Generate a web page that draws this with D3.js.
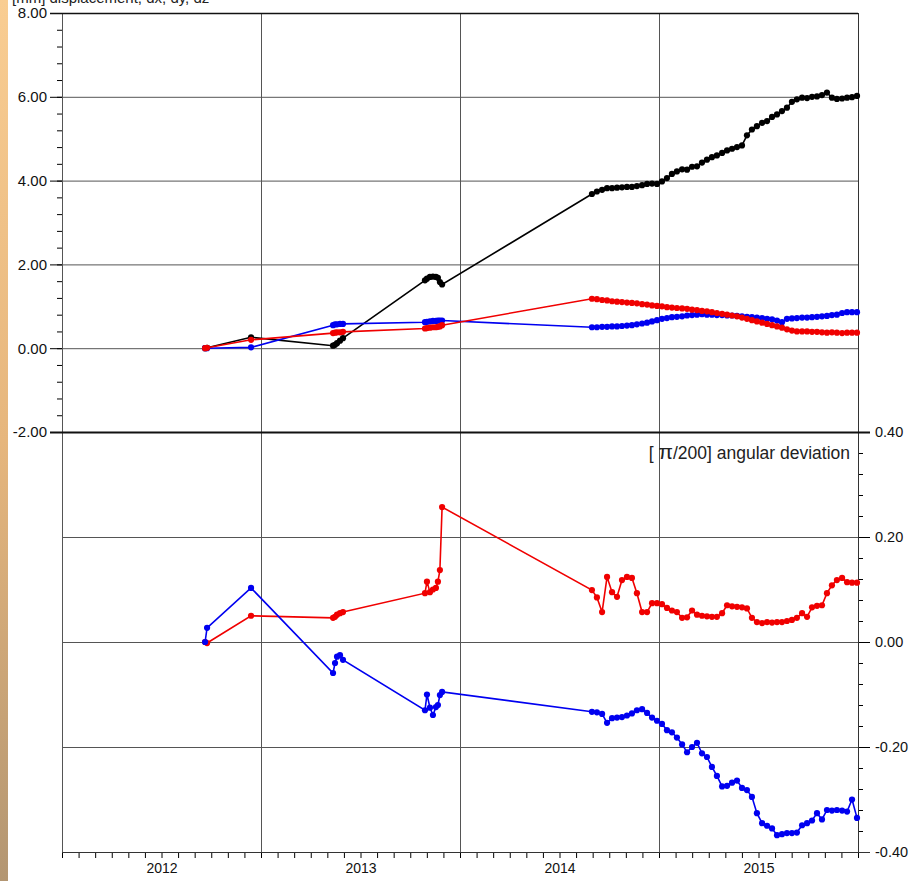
<!DOCTYPE html>
<html>
<head>
<meta charset="utf-8">
<script src="https://cdn.jsdelivr.net/npm/d3@7"></script>
<style>
  body { margin: 0; background: #fff; }
  svg { display: block; font-family: "Liberation Sans", Arial, sans-serif; }
</style>
</head>
<body>
<div id="chart"></div>
<script>
// survey epochs (decimal years), shared by all five series
const epochs = [
  2012.719, 2012.729, 2012.950,
  2013.362, 2013.372, 2013.382, 2013.397, 2013.412,
  2013.824, 2013.834, 2013.849, 2013.864, 2013.879, 2013.889, 2013.899, 2013.910,
  2014.663, 2014.688, 2014.714, 2014.739, 2014.764, 2014.789, 2014.814, 2014.839, 2014.864, 2014.889,
  2014.915, 2014.940, 2014.965, 2014.990, 2015.015, 2015.040, 2015.065, 2015.090, 2015.116, 2015.141,
  2015.166, 2015.191, 2015.216, 2015.241, 2015.266, 2015.291, 2015.317, 2015.342, 2015.367, 2015.392,
  2015.417, 2015.442, 2015.467, 2015.492, 2015.518, 2015.543, 2015.568, 2015.593, 2015.618, 2015.643,
  2015.668, 2015.693, 2015.719, 2015.744, 2015.769, 2015.794, 2015.819, 2015.844, 2015.869, 2015.894,
  2015.920, 2015.945, 2015.970, 2015.995
];

// upper panel, displacement [mm]
const dispBlack = [
  0, 0.01, 0.26,
  0.06, 0.08, 0.12, 0.18, 0.24,
  1.62, 1.66, 1.70, 1.71, 1.70, 1.68, 1.58, 1.52,
  3.68, 3.74, 3.78, 3.82, 3.82, 3.83, 3.84, 3.85, 3.85, 3.87,
  3.89, 3.92, 3.93, 3.92, 3.98, 4.06, 4.16, 4.22, 4.27, 4.26,
  4.33, 4.34, 4.43, 4.50, 4.56, 4.60, 4.66, 4.72, 4.76, 4.80,
  4.84, 5.08, 5.22, 5.30, 5.38, 5.42, 5.52, 5.58, 5.66, 5.74,
  5.88, 5.94, 5.98, 5.97, 6.00, 6.01, 6.04, 6.10, 5.98, 5.95,
  5.96, 5.98, 5.99, 6.02
];
const dispRed = [
  0, 0.01, 0.20,
  0.36, 0.37, 0.38, 0.38, 0.39,
  0.47, 0.48, 0.49, 0.50, 0.50, 0.51, 0.52, 0.55,
  1.18, 1.17, 1.15, 1.14, 1.12, 1.11, 1.10, 1.09, 1.08, 1.07,
  1.05, 1.04, 1.02, 1.01, 1.00, 0.98, 0.97, 0.96, 0.95, 0.94,
  0.92, 0.91, 0.89, 0.88, 0.86, 0.84, 0.82, 0.80, 0.78, 0.76,
  0.73, 0.70, 0.67, 0.64, 0.61, 0.58, 0.55, 0.52, 0.49, 0.45,
  0.42, 0.40, 0.40, 0.40, 0.39, 0.39, 0.38, 0.37, 0.38, 0.37,
  0.36, 0.37, 0.37, 0.37
];
const dispBlue = [
  0, 0, 0.02,
  0.55, 0.57, 0.57, 0.58, 0.58,
  0.62, 0.63, 0.64, 0.65, 0.65, 0.66, 0.66, 0.66,
  0.50, 0.50, 0.51, 0.51, 0.52, 0.52, 0.53, 0.54, 0.55, 0.57,
  0.59, 0.61, 0.64, 0.67, 0.70, 0.72, 0.74, 0.75, 0.76, 0.78,
  0.79, 0.80, 0.81, 0.80, 0.80, 0.79, 0.79, 0.78, 0.78, 0.77,
  0.76, 0.75, 0.74, 0.73, 0.72, 0.70, 0.69, 0.66, 0.62, 0.70,
  0.71, 0.72, 0.73, 0.73, 0.74, 0.75, 0.76, 0.77, 0.79, 0.80,
  0.84, 0.86, 0.86, 0.86
];

// lower panel, angular deviation [pi/200]
const angRed = [
  0, -0.002, 0.050,
  0.046, 0.048, 0.052, 0.055, 0.057,
  0.093, 0.115, 0.095, 0.100, 0.103, 0.115, 0.137, 0.257,
  0.099, 0.085, 0.057, 0.124, 0.095, 0.086, 0.118, 0.124, 0.122, 0.093,
  0.057, 0.057, 0.074, 0.074, 0.072, 0.065, 0.060, 0.057, 0.046, 0.047,
  0.060, 0.052, 0.050, 0.049, 0.048, 0.048, 0.055, 0.070, 0.068, 0.067,
  0.066, 0.064, 0.046, 0.038, 0.036, 0.038, 0.037, 0.038, 0.038, 0.040,
  0.042, 0.046, 0.055, 0.048, 0.066, 0.069, 0.070, 0.093, 0.108, 0.118,
  0.122, 0.114, 0.113, 0.113
];
const angBlue = [
  0, 0.027, 0.103,
  -0.059, -0.040, -0.028, -0.025, -0.034,
  -0.130, -0.100, -0.125, -0.139, -0.124, -0.120, -0.101, -0.095,
  -0.133, -0.134, -0.137, -0.154, -0.145, -0.144, -0.143, -0.140, -0.136, -0.130,
  -0.128, -0.135, -0.144, -0.150, -0.156, -0.168, -0.172, -0.182, -0.195, -0.210,
  -0.200, -0.192, -0.212, -0.219, -0.238, -0.255, -0.275, -0.274, -0.268, -0.264,
  -0.278, -0.282, -0.295, -0.326, -0.345, -0.350, -0.355, -0.368, -0.366, -0.364,
  -0.364, -0.363, -0.349, -0.345, -0.340, -0.326, -0.338, -0.320, -0.321, -0.320,
  -0.321, -0.323, -0.300, -0.335
];

const years = [2012, 2013, 2014, 2015];
const dispTicks = [-2, 0, 2, 4, 6, 8];
const angTicks = [-0.4, -0.2, 0, 0.2, 0.4];

const W = 914, H = 881;
const pLeft = 62, pRight = 858, pTop = 13, pMid = 432, pBottom = 852;

const svg = d3.select("#chart").append("svg")
  .attr("width", W)
  .attr("height", H);

// beige strip on the left edge
const grad = svg.append("defs").append("linearGradient")
  .attr("id", "strip").attr("x1", 0).attr("y1", 0).attr("x2", 0).attr("y2", 1);
grad.append("stop").attr("offset", "0%").attr("stop-color", "#f9cd92");
grad.append("stop").attr("offset", "50%").attr("stop-color", "#e6b67d");
grad.append("stop").attr("offset", "100%").attr("stop-color", "#b39672");
svg.append("rect").attr("x", 0).attr("y", 0).attr("width", 8).attr("height", H)
  .attr("fill", "url(#strip)");

const x = d3.scaleLinear().domain([2012, 2016]).range([pLeft, pRight]);
const yDisp = d3.scaleLinear().domain([-2, 8]).range([pMid, pTop]);
const yAng = d3.scaleLinear().domain([-0.4, 0.4]).range([pBottom, pMid]);

const fmt = d => d.toFixed(2);

// grid
const grid = svg.append("g").attr("stroke", "#555").attr("stroke-width", 1);
grid.selectAll(".gy1")
  .data(dispTicks.filter(d => d > -2 && d < 8))
  .join("line")
  .attr("x1", pLeft).attr("x2", pRight)
  .attr("y1", d => yDisp(d) + 0.5).attr("y2", d => yDisp(d) + 0.5);
grid.selectAll(".gy2")
  .data(angTicks.filter(d => d > -0.4 && d < 0.4))
  .join("line")
  .attr("x1", pLeft).attr("x2", pRight)
  .attr("y1", d => yAng(d) + 0.5).attr("y2", d => yAng(d) + 0.5);
grid.selectAll(".gx")
  .data([2013, 2014, 2015])
  .join("line")
  .attr("x1", d => x(d) + 0.5).attr("x2", d => x(d) + 0.5)
  .attr("y1", pTop).attr("y2", pBottom);

// left axis (upper panel)
svg.append("g")
  .attr("transform", `translate(${pLeft},0)`)
  .call(d3.axisLeft(yDisp).tickValues(d3.range(-2, 8.01, 0.4)).tickSize(5).tickFormat(""))
  .call(g => g.select(".domain").remove());
svg.append("g")
  .attr("transform", `translate(${pLeft},0)`)
  .call(d3.axisLeft(yDisp).tickValues(dispTicks).tickSize(12).tickPadding(3).tickFormat(fmt))
  .call(g => g.select(".domain").remove())
  .call(g => g.selectAll("text").attr("font-size", 15).attr("fill", "#111"));

// right axis (lower panel)
svg.append("g")
  .attr("transform", `translate(${pRight},0)`)
  .call(d3.axisRight(yAng).tickValues(d3.range(-0.4, 0.401, 0.04)).tickSize(5).tickFormat(""))
  .call(g => g.select(".domain").remove());
svg.append("g")
  .attr("transform", `translate(${pRight},0)`)
  .call(d3.axisRight(yAng).tickValues(angTicks).tickSize(12).tickPadding(5).tickFormat(fmt))
  .call(g => g.select(".domain").remove())
  .call(g => g.selectAll("text").attr("font-size", 14.5).attr("fill", "#111"));

// bottom axis: month ticks + year labels
svg.append("g")
  .attr("transform", `translate(0,${pBottom})`)
  .call(d3.axisBottom(x).tickValues(d3.range(2012, 2016.001, 1 / 12)).tickSize(6).tickFormat(""))
  .call(g => g.select(".domain").remove());
svg.append("g")
  .attr("transform", `translate(0,${pBottom})`)
  .call(d3.axisBottom(x).tickValues(years.map(d => d + 0.5)).tickSize(0).tickPadding(11)
    .tickFormat((d, i) => years[i]))
  .call(g => g.select(".domain").remove())
  .call(g => g.selectAll("text").attr("font-size", 14).attr("fill", "#111"));

// frame lines
svg.append("line").attr("x1", pLeft + 0.5).attr("x2", pLeft + 0.5).attr("y1", pTop).attr("y2", pBottom)
  .attr("stroke", "#555");
svg.append("line").attr("x1", pRight + 0.5).attr("x2", pRight + 0.5).attr("y1", pTop).attr("y2", pBottom)
  .attr("stroke", "#333");
svg.append("line").attr("x1", 50).attr("x2", pRight).attr("y1", pTop + 0.5).attr("y2", pTop + 0.5)
  .attr("stroke", "#111").attr("stroke-width", 1.5);
svg.append("line").attr("x1", 50).attr("x2", 870).attr("y1", pMid + 0.5).attr("y2", pMid + 0.5)
  .attr("stroke", "#111").attr("stroke-width", 2);
svg.append("line").attr("x1", pLeft).attr("x2", 870).attr("y1", pBottom + 0.5).attr("y2", pBottom + 0.5)
  .attr("stroke", "#333").attr("stroke-width", 1.2);

// series
function drawSeries(values, yScale, color) {
  const pts = epochs.map((t, i) => [t, values[i]]);
  const line = d3.line().x(d => x(d[0])).y(d => yScale(d[1]));
  const g = svg.append("g");
  g.append("path").datum(pts)
    .attr("d", line)
    .attr("fill", "none")
    .attr("stroke", color)
    .attr("stroke-width", 1.6);
  g.selectAll("circle").data(pts).join("circle")
    .attr("cx", d => x(d[0]))
    .attr("cy", d => yScale(d[1]))
    .attr("r", 3.1)
    .attr("fill", color);
}
drawSeries(dispBlack, yDisp, "#000");
drawSeries(dispBlue, yDisp, "#0000f0");
drawSeries(dispRed, yDisp, "#f00000");
drawSeries(angRed, yAng, "#f00000");
drawSeries(angBlue, yAng, "#0000f0");

// texts
svg.append("text")
  .attr("x", 12).attr("y", 3)
  .attr("font-size", 15).attr("fill", "#222")
  .text("[mm] displacement, dx, dy, dz");
const ang = svg.append("text")
  .attr("x", 850).attr("y", 459)
  .attr("text-anchor", "end")
  .attr("font-size", 17.5).attr("fill", "#222");
ang.append("tspan").text("[ ");
ang.append("tspan").attr("font-size", 21).text("π");
ang.append("tspan").text("/200] angular deviation");
</script>
</body>
</html>
